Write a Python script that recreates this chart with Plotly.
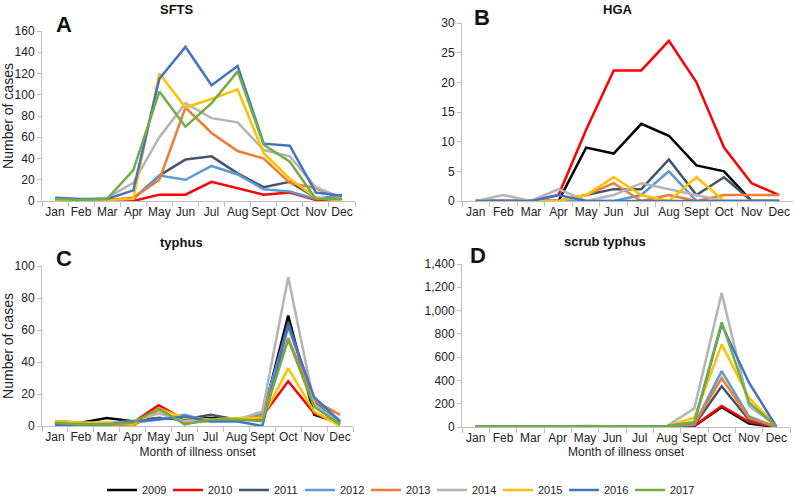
import plotly.graph_objects as go

months = ["Jan", "Feb", "Mar", "Apr", "May", "Jun", "Jul", "Aug", "Sept", "Oct", "Nov", "Dec"]
years = ["2009", "2010", "2011", "2012", "2013", "2014", "2015", "2016", "2017"]
colors = ["#000000", "#FF0000", "#44546A", "#5B9BD5", "#ED7D31", "#B4B4B4", "#FFC000", "#4472C4", "#70AD47"]

N = None
# Panel A: SFTS
sfts = {
    "2009": [N] * 12,
    "2010": [0, 0, 0, 0, 6, 6, 18, 12, 6, 8, 1, 0],
    "2011": [1, 1, 1, 2, 24, 39, 42, 26, 13, 18, 3, 2],
    "2012": [1, 1, 1, 2, 24, 20, 33, 25, 11, 9, 2, 6],
    "2013": [1, 1, 1, 3, 20, 88, 64, 47, 40, 17, 12, 2],
    "2014": [1, 1, 3, 17, 60, 92, 78, 74, 48, 42, 13, 3],
    "2015": [1, 1, 1, 2, 120, 88, 96, 105, 45, 21, 3, 0],
    "2016": [3, 2, 2, 10, 115, 145, 109, 127, 54, 52, 8, 5],
    "2017": [2, 1, 2, 29, 103, 70, 92, 122, 53, 37, 2, 2],
}
# Panel B: HGA
hga = {
    "2009": [0, 0, 0, 0, 9, 8, 13, 11, 6, 5, 0, 0],
    "2010": [0, 0, 0, 1, 12, 22, 22, 27, 20, 9, 3, 1],
    "2011": [0, 0, 0, 0, 1, 2, 2, 7, 1, 4, 0, 0],
    "2012": [0, 0, 0, 0, 0, 0, 1, 5, 0, 0, 0, 0],
    "2013": [0, 0, 0, 0, 1, 3, 0, 1, 0, 1, 1, 1],
    "2014": [0, 1, 0, 2, 0, 1, 3, 2, 1, 0, 0, 0],
    "2015": [0, 0, 0, 0, 1, 4, 1, 0, 4, 0, 0, 0],
    "2016": [0, 0, 0, 1, 0, 0, 0, 0, 0, 0, 0, 0],
    "2017": [N] * 12,
}
# Panel C: typhus
typhus = {
    "2009": [3, 2, 5, 3, 5, 4, 5, 4, 5, 69, 7, 2],
    "2010": [2, 1, 1, 2, 13, 4, 4, 4, 6, 28, 8, 1],
    "2011": [0, 1, 1, 3, 5, 4, 7, 4, 4, 65, 15, 3],
    "2012": [1, 1, 1, 2, 4, 7, 3, 3, 8, 62, 17, 2],
    "2013": [2, 1, 0, 0, 10, 2, 3, 4, 6, 55, 16, 7],
    "2014": [3, 2, 2, 3, 8, 3, 4, 4, 9, 93, 14, 1],
    "2015": [3, 2, 2, 1, 11, 5, 4, 5, 5, 36, 9, 0],
    "2016": [1, 1, 1, 3, 4, 6, 3, 3, 0, 63, 18, 3],
    "2017": [2, 1, 1, 2, 11, 1, 4, 4, 3, 54, 12, 1],
}
# Panel D: scrub typhus
scrub = {
    "2009": [1, 1, 1, 1, 3, 3, 3, 4, 8, 170, 30, 0],
    "2010": [1, 1, 1, 2, 4, 3, 3, 4, 10, 180, 45, 0],
    "2011": [1, 1, 1, 2, 4, 3, 3, 4, 15, 350, 60, 0],
    "2012": [1, 1, 1, 2, 5, 3, 3, 5, 20, 480, 90, 0],
    "2013": [1, 1, 1, 2, 5, 3, 3, 5, 25, 420, 75, 5],
    "2014": [2, 1, 1, 3, 6, 4, 4, 8, 160, 1150, 180, 10],
    "2015": [2, 1, 1, 3, 6, 4, 4, 6, 80, 710, 250, 10],
    "2016": [2, 1, 1, 3, 6, 4, 4, 6, 40, 880, 380, 5],
    "2017": [3, 2, 2, 4, 9, 5, 5, 7, 40, 900, 210, 5],
}

panels = [
    (sfts, "x", "y"),
    (hga, "x2", "y2"),
    (typhus, "x3", "y3"),
    (scrub, "x4", "y4"),
]

fig = go.Figure()
for pi, (data, xa, ya) in enumerate(panels):
    for yr, col in zip(years, colors):
        fig.add_trace(go.Scatter(
            x=months, y=data[yr], mode="lines", name=yr,
            line=dict(color=col, width=2.5), xaxis=xa, yaxis=ya,
            legendgroup=yr, showlegend=(pi == 0), connectgaps=False,
            hoverinfo="skip",
        ))

W, H = 796, 501
def dx(a, b):
    return [a / W, b / W]
def dy(top, bottom):
    return [1 - bottom / H, 1 - top / H]

axcol = "#BFBFBF"
font = "Liberation Sans, Arial, sans-serif"
xcommon = dict(type="category", range=[-0.5, 11.5], tickson="boundaries", ticks="outside",
               ticklen=5, tickcolor=axcol, showline=True, linecolor=axcol, linewidth=1,
               showgrid=False, zeroline=False, tickangle=0, automargin=False,
               tickfont=dict(size=12, color="#222", family=font), fixedrange=True)
ycommon = dict(ticks="outside", ticklen=4, tickcolor=axcol, showline=True, linecolor=axcol,
               linewidth=1, showgrid=False, zeroline=False, automargin=False,
               tickfont=dict(size=12, color="#222", family=font), fixedrange=True)

fig.update_layout(
    width=W, height=H, margin=dict(l=0, r=0, t=0, b=0, autoexpand=False),
    paper_bgcolor="white", plot_bgcolor="white",
    font=dict(family=font, color="#222"),
    xaxis=dict(xcommon, domain=dx(42, 355), anchor="y"),
    yaxis=dict(ycommon, domain=dy(31, 201), range=[0, 160], dtick=20, anchor="x",
               title=dict(text="Number of cases", font=dict(size=14), standoff=6)),
    xaxis2=dict(xcommon, domain=dx(462, 793), anchor="y2"),
    yaxis2=dict(ycommon, domain=dy(23, 201), range=[0, 30], dtick=5, anchor="x2"),
    xaxis3=dict(xcommon, domain=dx(42, 353), anchor="y3",
                title=dict(text="Month of illness onset", font=dict(size=12), standoff=4)),
    yaxis3=dict(ycommon, domain=dy(266, 426), range=[0, 100], dtick=20, anchor="x3",
                title=dict(text="Number of cases", font=dict(size=14), standoff=6)),
    xaxis4=dict(xcommon, domain=dx(462, 790), anchor="y4",
                title=dict(text="Month of illness onset", font=dict(size=12), standoff=2)),
    yaxis4=dict(ycommon, domain=dy(264, 427), range=[0, 1400], dtick=200, tickformat=",",
                anchor="x4"),
    legend=dict(orientation="h", x=102 / W, xanchor="left", y=1 - 490 / H, yanchor="middle",
                itemwidth=30, entrywidth=21, entrywidthmode="pixels", tracegroupgap=0,
                font=dict(size=11, color="#222"), bgcolor="rgba(0,0,0,0)"),
    showlegend=True,
)

ann = [
    ("SFTS", 177, 9, 13),
    ("HGA", 618, 9, 13),
    ("typhus", 181, 242, 13),
    ("scrub typhus", 605, 241, 13),
    ("A", 64, 25, 22),
    ("B", 482, 17, 22),
    ("C", 64, 258, 22),
    ("D", 478, 255, 22),
]
for txt, x, y, sz in ann:
    fig.add_annotation(x=x / W, y=1 - y / H, xref="paper", yref="paper", text=f"<b>{txt}</b>",
                       showarrow=False, xanchor="center", yanchor="middle",
                       font=dict(size=sz, color="#111", family=font))

fig.write_html("out.html", config={"displayModeBar": False},
               post_script="document.body.style.margin='0';document.body.style.overflow='hidden';")
